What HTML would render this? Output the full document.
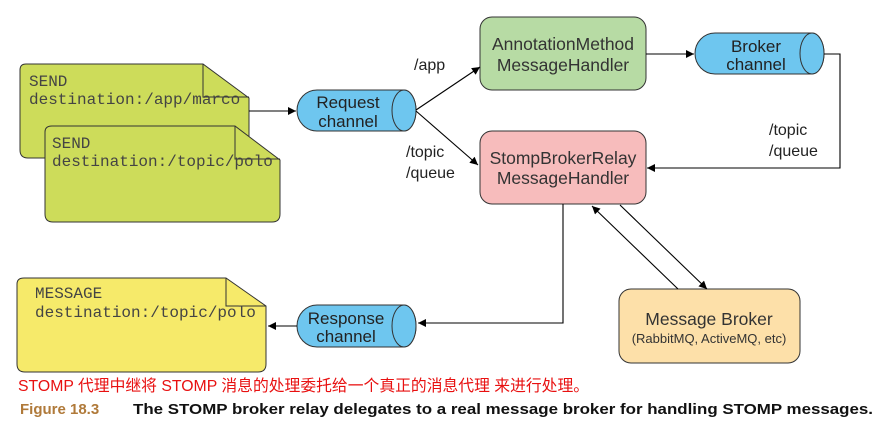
<!DOCTYPE html>
<html><head><meta charset="utf-8"><style>
body{margin:0;background:#fff;width:890px;height:433px;overflow:hidden}
svg{position:absolute;left:0;top:0}
</style></head><body>
<svg width="890" height="433" viewBox="0 0 890 433" font-family="Liberation Sans, sans-serif">
<defs><marker id="a" viewBox="0 0 10 10" refX="10" refY="5" markerWidth="10" markerHeight="8" orient="auto" markerUnits="userSpaceOnUse"><path d="M0,0L10,5L0,10z" fill="#000"/></marker></defs>
<path d="M26,64H203L249,98V150Q249,158 241,158H28Q20,158 20,150V70Q20,64 26,64Z" fill="#cddc5a" stroke="#333"/>
<path d="M203,64V97H249" fill="none" stroke="#333"/>
<path d="M52,126H235L280,160V214Q280,222 272,222H53Q45,222 45,214V132Q45,126 52,126Z" fill="#cddc5a" stroke="#333"/>
<path d="M235,126V159H280" fill="none" stroke="#333"/>
<g font-family="Liberation Mono, monospace" font-size="16" fill="#444">
<text x="29" y="86">SEND</text><text x="29" y="104">destination:/app/marco</text>
<text x="52" y="148">SEND</text><text x="52" y="166">destination:/topic/polo</text>
</g>
<path d="M24,278H226L266,306V364Q266,372 258,372H25Q17,372 17,364V284Q17,278 24,278Z" fill="#f6ea6a" stroke="#333"/>
<path d="M226,278V306H266" fill="none" stroke="#333"/>
<g font-family="Liberation Mono, monospace" font-size="16" fill="#444">
<text x="35" y="298">MESSAGE</text><text x="35" y="317">destination:/topic/polo</text>
</g>
<g fill="#6ec6ef" stroke="#333">
<path d="M317,90H404A12,20.5 0 0 1 404,131H317A20,20.5 0 0 1 317,90Z"/><ellipse cx="404" cy="110.5" rx="12" ry="20.5"/>
<path d="M317,305H404A12,21 0 0 1 404,347H317A20,21 0 0 1 317,305Z"/><ellipse cx="404" cy="326" rx="12" ry="21"/>
<path d="M715,33H812A12,20.5 0 0 1 812,74H715A20,20.5 0 0 1 715,33Z"/><ellipse cx="812" cy="53.5" rx="12" ry="20.5"/>
</g>
<g font-size="17" fill="#222" text-anchor="middle">
<text x="348" y="108">Request</text><text x="348" y="127">channel</text>
<text x="346" y="324">Response</text><text x="346" y="342">channel</text>
<text x="756" y="52">Broker</text><text x="756" y="70">channel</text>
</g>
<rect x="480" y="17" width="166" height="73" rx="12" fill="#b7dba4" stroke="#333"/>
<rect x="480" y="131" width="166" height="73" rx="12" fill="#f7bcbc" stroke="#333"/>
<rect x="619" y="289" width="181" height="74" rx="12" fill="#fde0a9" stroke="#333"/>
<g font-size="17.5" fill="#333" text-anchor="middle">
<text x="563" y="50">AnnotationMethod</text><text x="563" y="71">MessageHandler</text>
<text x="563" y="164">StompBrokerRelay</text><text x="563" y="184">MessageHandler</text>
<text x="709" y="325">Message Broker</text>
<text x="709" y="343" font-size="13">(RabbitMQ, ActiveMQ, etc)</text>
</g>
<g stroke="#000" fill="none" stroke-width="1.1">
<line x1="249" y1="111" x2="296" y2="111" marker-end="url(#a)"/>
<line x1="416" y1="110" x2="480" y2="67" marker-end="url(#a)"/>
<line x1="416" y1="111" x2="478" y2="165" marker-end="url(#a)"/>
<line x1="646" y1="54" x2="694" y2="54" marker-end="url(#a)"/>
<polyline points="824,54 840,54 840,168 647,168" marker-end="url(#a)"/>
<polyline points="563,204 563,323 418,323" marker-end="url(#a)"/>
<line x1="678" y1="289" x2="592" y2="206" marker-end="url(#a)"/>
<line x1="620" y1="205" x2="707" y2="289" marker-end="url(#a)"/>
</g>
<line x1="297" y1="326" x2="268" y2="326" stroke="#000" marker-end="url(#a)"/>
<g font-size="16" fill="#222">
<text x="414" y="70">/app</text>
<text x="406" y="157">/topic</text><text x="406" y="178">/queue</text>
<text x="769" y="135">/topic</text><text x="769" y="156">/queue</text>
</g>
<text x="18" y="391" font-size="15.8" fill="#e81010" font-family="Liberation Sans, Noto Sans CJK SC, sans-serif">STOMP 代理中继将 STOMP 消息的处理委托给一个真正的消息代理 来进行处理。</text>
<text x="20" y="414" font-size="15" font-weight="bold" fill="#b07a3a">Figure 18.3</text>
<text x="133" y="414" font-size="15" font-weight="bold" fill="#111" textLength="740" lengthAdjust="spacingAndGlyphs">The STOMP broker relay delegates to a real message broker for handling STOMP messages.</text>
</svg>
</body></html>
